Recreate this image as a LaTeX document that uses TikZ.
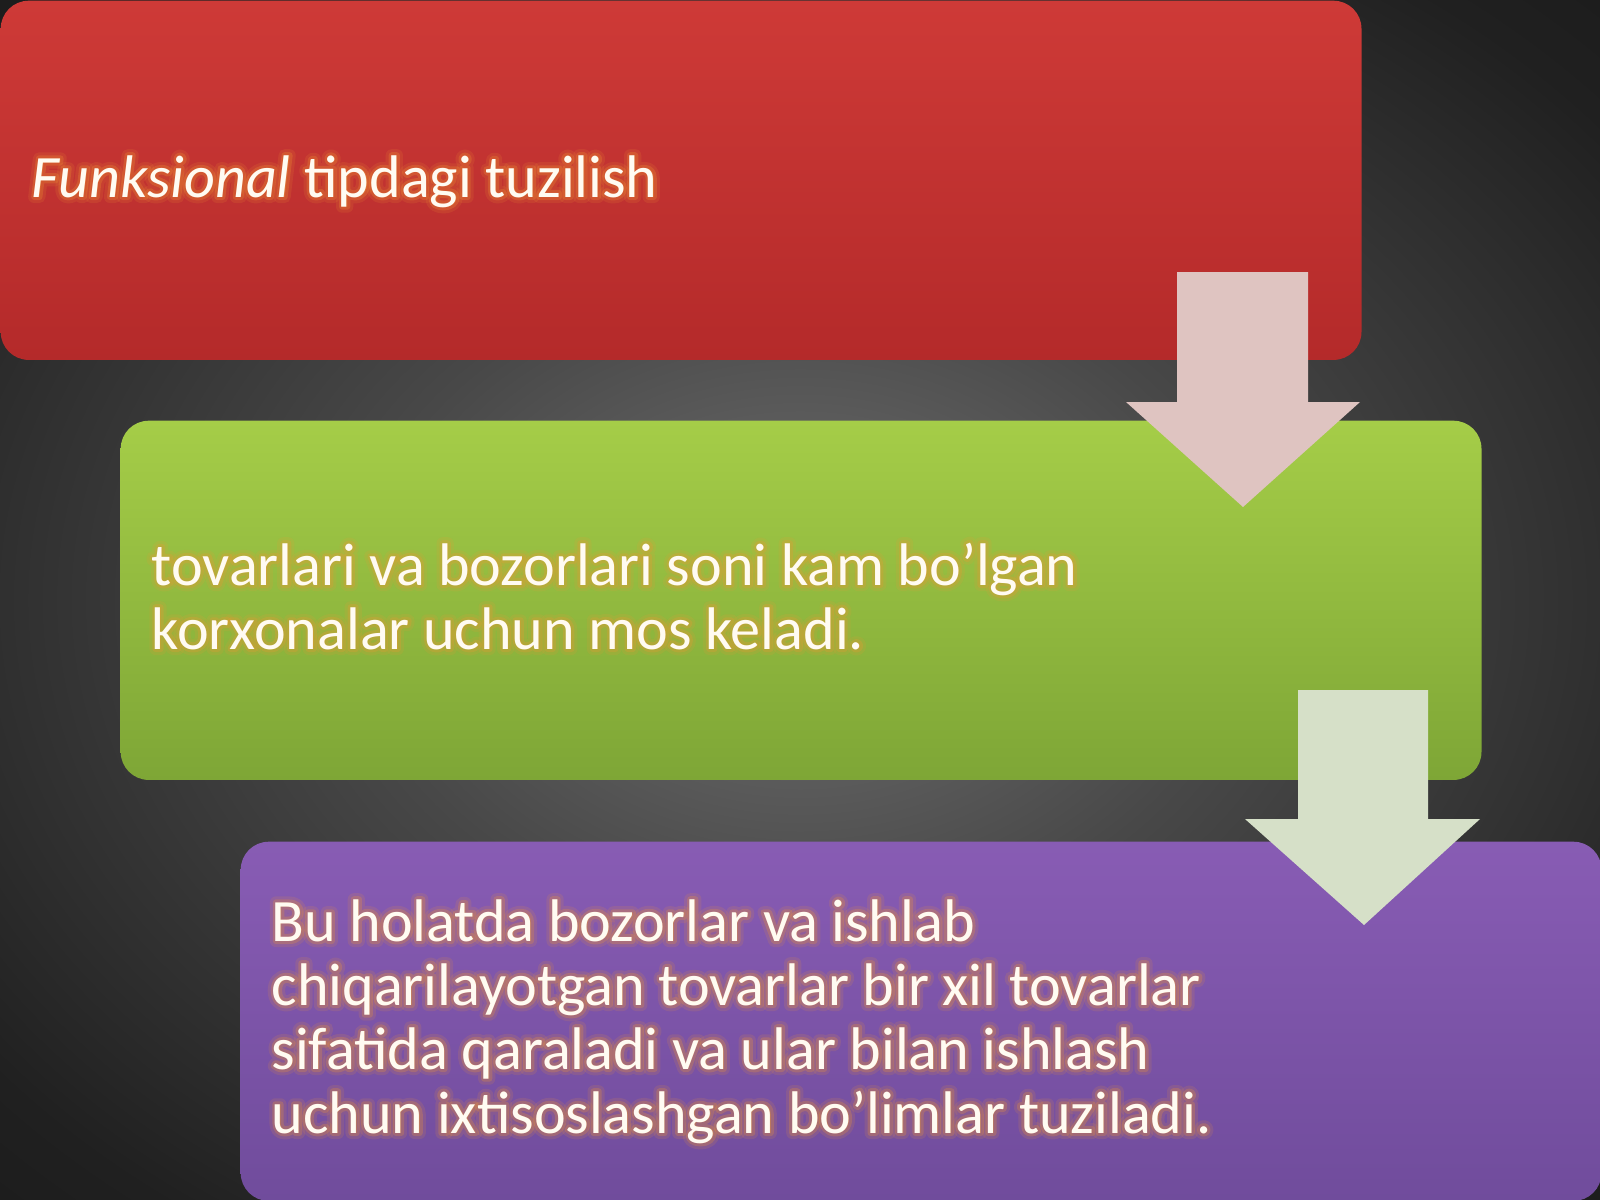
\documentclass[tikz,border=0pt]{standalone}
\usepackage{fontspec}
\setmainfont{Carlito}
\newfontfamily\glowwide{Carlito}[FakeBold=20]
\newfontfamily\glownarrow{Carlito}[FakeBold=10]
\definecolor{bgA}{RGB}{112,112,112}
\definecolor{bgB}{RGB}{72,72,72}
\definecolor{bgC}{RGB}{32,32,32}
\definecolor{bgD}{RGB}{16,16,16}
\definecolor{redtop}{RGB}{206,58,55}
\definecolor{redbot}{RGB}{180,42,42}
\definecolor{greentop}{RGB}{165,205,72}
\definecolor{greenbot}{RGB}{126,166,54}
\definecolor{purptop}{RGB}{136,92,180}
\definecolor{purpbot}{RGB}{112,76,156}
\definecolor{arrowA}{RGB}{223,196,193}
\definecolor{arrowB}{RGB}{214,224,200}
\definecolor{glowc}{RGB}{240,150,50}
\definecolor{txtc}{RGB}{255,251,242}
\pgfdeclareradialshading{bgshade}{\pgfpoint{0bp}{0bp}}{color(0bp)=(bgA); color(14bp)=(bgB); color(32bp)=(bgC); color(50bp)=(bgD); color(70bp)=(bgD)}
\tikzset{
  panel/.style={rounded corners=0.28cm, minimum width=13.6cm, minimum height=3.59cm, anchor=north west, inner sep=0pt},
  txt/.style={text=txtc, align=left, inner sep=0pt, font=\fontsize{17.1pt}{18.2pt}\selectfont},
  glowA/.style={txt, text=glowc, opacity=0.14, line join=round, font=\fontsize{17.1pt}{18.2pt}\glowwide},
  glowB/.style={txt, text=glowc, opacity=0.26, line join=round, font=\fontsize{17.1pt}{18.2pt}\glownarrow}
}
\newcommand{\glowlabel}[4]{%
  \node[glowA, anchor=#3] at (#2) {#4};%
  \node[glowB, anchor=#3] at (#2) {#4};%
  \node[txt, anchor=#3] (#1) at (#2) {#4};%
}
\begin{document}
\begin{tikzpicture}[x=0.01cm,y=-0.01cm]
\useasboundingbox (0,0) rectangle (1600,1200);
\shade[shading=bgshade] (0,0) rectangle (1600,1200);
% panels
\node[panel, top color=redtop, bottom color=redbot] (red) at (0,0) {};
\node[panel, top color=greentop, bottom color=greenbot] (green) at (120,420) {};
\node[panel, top color=purptop, bottom color=purpbot] (purple) at (240,841) {};
% arrows
\fill[arrowA] (1177,272) -- (1308,272) -- (1308,402) -- (1360,402) -- (1243,507) -- (1126,402) -- (1177,402) -- cycle;
\fill[arrowB] (1298,690) -- (1428,690) -- (1428,819) -- (1480,819) -- (1364,925) -- (1245,819) -- (1298,819) -- cycle;
% texts (base anchor = baseline of the last line)
\glowlabel{t1}{31,197}{base west}{\textit{Funksional} tipdagi tuzilish}
\glowlabel{t2}{151,649}{base west}{tovarlari va bozorlari soni kam bo’lgan\\korxonalar uchun mos keladi.}
\glowlabel{t3}{271,1133}{base west}{Bu holatda bozorlar va ishlab\\chiqarilayotgan tovarlar bir xil tovarlar\\sifatida qaraladi va ular bilan ishlash\\uchun ixtisoslashgan bo’limlar tuziladi.}
\end{tikzpicture}
\end{document}
